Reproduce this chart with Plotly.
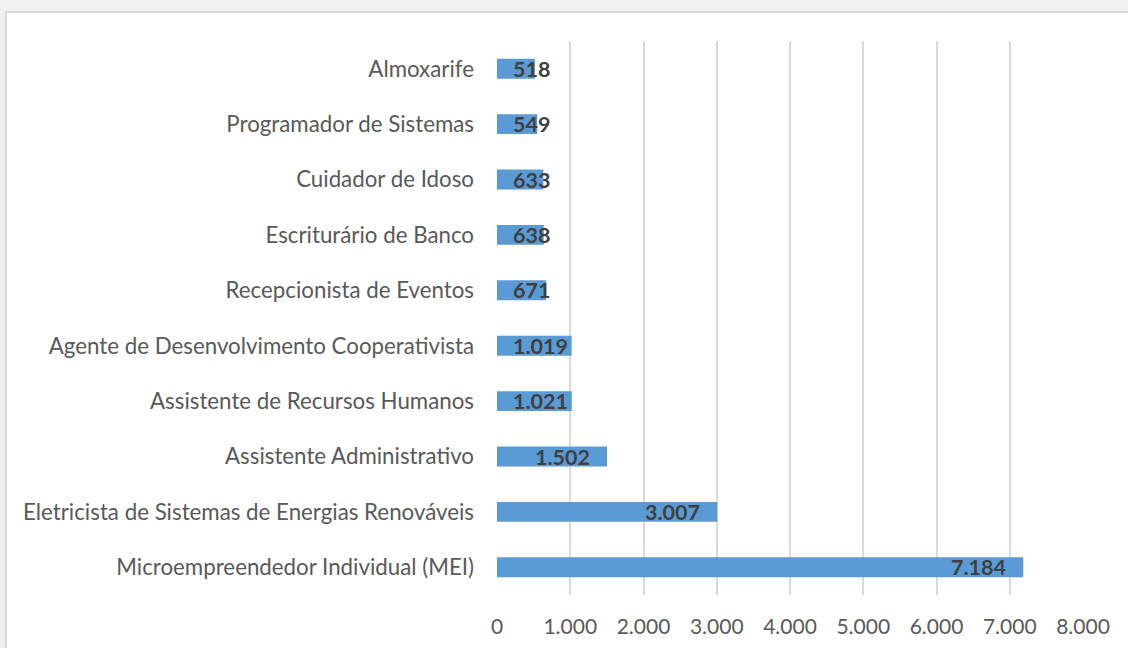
import plotly.graph_objects as go

# Occupations (bottom to top) and their counts
categories = [
    "Microempreendedor Individual (MEI)",
    "Eletricista de Sistemas de Energias Renováveis",
    "Assistente Administrativo",
    "Assistente de Recursos Humanos",
    "Agente de Desenvolvimento Cooperativista",
    "Recepcionista de Eventos",
    "Escriturário de Banco",
    "Cuidador de Idoso",
    "Programador de Sistemas",
    "Almoxarife",
]
values = [7184, 3007, 1502, 1021, 1019, 671, 638, 633, 549, 518]
tick_vals = [0, 1000, 2000, 3000, 4000, 5000, 6000, 7000, 8000]

W, H = 1128, 648
M_L, M_R, M_T, M_B = 497, 45, 41, 53
X_MAX = 8000
LABEL_SIZE = 21.5
CAT_SIZE = 22.3
TICK_SIZE = 21

plot_w = W - M_L - M_R
plot_h = H - M_T - M_B
px_per_unit = plot_w / X_MAX


def fmt(v):
    return f"{v:,}".replace(",", ".")


def text_width(s, size):
    return sum((0.25 if c == "." else 0.58) * size for c in s)


fig = go.Figure(
    go.Bar(
        x=values,
        y=categories,
        orientation="h",
        marker=dict(color="#5B9BD5", line=dict(width=0)),
        hoverinfo="skip",
    )
)

# Value labels at the inner end of each bar; short bars keep the label near the axis
annotations = []
for cat, v in zip(categories, values):
    s = fmt(v)
    bar_px = v * px_per_unit
    if bar_px - 16 - text_width(s, LABEL_SIZE) < 15:
        ann = dict(x=0, xanchor="left", xshift=14)
    else:
        ann = dict(x=v, xanchor="right", xshift=-15)
    ann.update(
        y=cat,
        xref="x",
        yref="y",
        text=f"<b>{s}</b>",
        showarrow=False,
        yanchor="middle",
        font=dict(family="Lato", size=LABEL_SIZE, color="#404040"),
    )
    annotations.append(ann)

# White chart panel on a light grey page
px_to_xpaper = lambda p: (p - M_L) / plot_w
px_to_ypaper = lambda p: 1 - (p - M_T) / plot_h
shapes = [
    dict(
        type="rect",
        xref="paper",
        yref="paper",
        x0=px_to_xpaper(6),
        x1=px_to_xpaper(W + 10),
        y0=px_to_ypaper(H + 10),
        y1=px_to_ypaper(12),
        fillcolor="white",
        line=dict(color="#d9d9d9", width=2),
        layer="below",
    )
]

fig.update_layout(
    width=W,
    height=H,
    margin=dict(l=M_L, r=M_R, t=M_T, b=M_B, pad=0),
    paper_bgcolor="#f0f0f0",
    plot_bgcolor="rgba(0,0,0,0)",
    separators=",.",
    bargap=0.64,
    showlegend=False,
    font=dict(family="Lato", size=CAT_SIZE, color="#595959"),
    annotations=annotations,
    shapes=shapes,
    xaxis=dict(
        range=[0, X_MAX],
        tickvals=tick_vals,
        tickformat=",d",
        showgrid=True,
        gridcolor="#d9d9d9",
        gridwidth=2,
        zeroline=False,
        showline=False,
        ticks="",
        ticklabelstandoff=17,
        tickfont=dict(family="Lato", size=TICK_SIZE, color="#595959"),
        automargin=False,
        fixedrange=True,
    ),
    yaxis=dict(
        categoryorder="array",
        categoryarray=categories,
        showgrid=False,
        zeroline=False,
        showline=False,
        ticks="",
        ticklabelstandoff=22,
        tickfont=dict(family="Lato", size=CAT_SIZE, color="#595959"),
        automargin=False,
        fixedrange=True,
    ),
)

fig.write_html("out.html")
